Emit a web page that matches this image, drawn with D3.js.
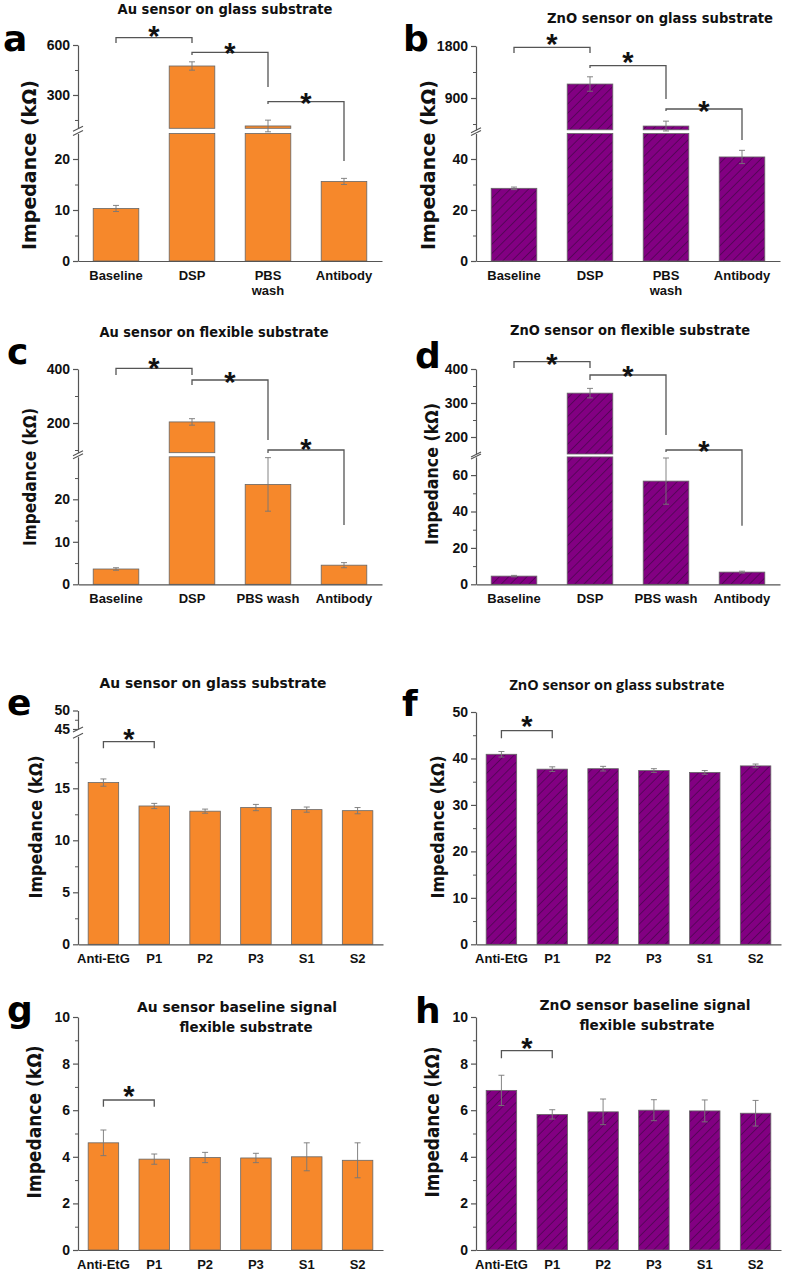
<!DOCTYPE html>
<html>
<head>
<meta charset="utf-8">
<script src="https://cdn.jsdelivr.net/npm/d3@7"></script>
<style>
  body { margin: 0; background: #fff; }
  svg { display: block; }
</style>
</head>
<body>
<svg id="fig" width="787" height="1273"></svg>
<script>
// categories
const catsStep = ["Baseline", "DSP", "PBS wash", "Antibody"];
const catsSel = ["Anti-EtG", "P1", "P2", "P3", "S1", "S2"];

// values (kOhm) and errors
const auGlassVals = [10.3, 474, 114, 15.6];
const auGlassErr = [0.6, 25, 35, 0.6];
const znoGlassVals = [28.5, 1142, 415, 40.8];
const znoGlassErr = [0.5, 125, 85, 2.6];
const auFlexVals = [3.6, 204, 23.5, 4.5];
const auFlexErr = [0.3, 12, 6.3, 0.6];
const znoFlexVals = [4.5, 329, 56.7, 6.7];
const znoFlexErr = [0.4, 14, 12.7, 0.5];

const auGlassSelVals = [15.55, 13.3, 12.8, 13.15, 12.95, 12.85];
const auGlassSelErr = [0.35, 0.25, 0.2, 0.3, 0.25, 0.3];
const znoGlassSelVals = [40.9, 37.7, 37.8, 37.4, 37.0, 38.4];
const znoGlassSelErr = [0.6, 0.5, 0.5, 0.4, 0.4, 0.4];
const auFlexSelVals = [4.6, 3.9, 3.97, 3.95, 4.0, 3.85];
const auFlexSelErr = [0.55, 0.22, 0.22, 0.2, 0.6, 0.75];
const znoFlexSelVals = [6.85, 5.82, 5.93, 6.0, 5.97, 5.87];
const znoFlexSelErr = [0.65, 0.2, 0.55, 0.45, 0.47, 0.55];

const ORANGE = "#F6882B";
const PURPLE = "#820082";

const svg = d3.select("#fig");

// hatch pattern for the ZnO bars
const pat = svg.append("defs").append("pattern")
  .attr("id", "hatch")
  .attr("patternUnits", "userSpaceOnUse")
  .attr("width", 6.5).attr("height", 6.5)
  .attr("patternTransform", "rotate(45)");
pat.append("rect").attr("width", 6.5).attr("height", 6.5).attr("fill", PURPLE);
pat.append("line").attr("x1", 0).attr("y1", 0).attr("x2", 0).attr("y2", 6.5)
  .attr("stroke", "#36083a").attr("stroke-width", 1.1);

const panels = [
  { letter: "a", lx: 3, ly: 51, title: ["Au sensor on glass substrate"], tx: [225], ty: [14], tl: [215],
    ylab: [29, 165, 170, 20], cats: catsStep, vals: auGlassVals, errs: auGlassErr, fill: ORANGE, wrap: true,
    x0: 78, x1: 382, yTop: 45, yBot: 261, loMax: 25, loTop: 133.5, upMin: 100, upMax: 600, upBot: 128.3,
    loTicks: [0, 10, 20], loMinor: [5, 15], upTicks: [300, 600], upMinor: [150, 450],
    brackets: [[0, 1, 37.7, 43, 43, -8], [1, 2, 52.3, 55, 87, -5], [2, 3, 101.7, 104, 161, -5]] },
  { letter: "b", lx: 403, ly: 51, title: ["ZnO sensor on glass substrate"], tx: [660], ty: [23], tl: [226],
    ylab: [428, 165, 170, 20], cats: catsStep, vals: znoGlassVals, errs: znoGlassErr, fill: "url(#hatch)", wrap: true,
    x0: 476, x1: 780, yTop: 46, yBot: 261, loMax: 50, loTop: 133.5, upMin: 350, upMax: 1800, upBot: 129.8,
    loTicks: [0, 20, 40], loMinor: [10, 30], upTicks: [900, 1800], upMinor: [450, 1350],
    brackets: [[0, 1, 47.3, 53, 53, -9], [1, 2, 65.7, 68, 99, -10], [2, 3, 109, 111, 140, -4]] },
  { letter: "c", lx: 7, ly: 364, title: ["Au sensor on flexible substrate"], tx: [214], ty: [337], tl: [229],
    ylab: [29, 477, 138, 18], cats: catsStep, vals: auFlexVals, errs: auFlexErr, fill: ORANGE, wrap: false,
    x0: 78, x1: 382, yTop: 369, yBot: 584.3, loMax: 30, loTop: 456.8, upMin: 90, upMax: 400, upBot: 452.7,
    loTicks: [0, 10, 20], loMinor: [5, 15, 25], upTicks: [200, 400], upMinor: [100, 300],
    brackets: [[0, 1, 368.3, 375, 375, -6.6], [1, 2, 380, 385, 440, -4], [2, 3, 450, 453, 525, -7]] },
  { letter: "d", lx: 415, ly: 368, title: ["ZnO sensor on flexible substrate"], tx: [630], ty: [335], tl: [240],
    ylab: [431, 474, 142, 18], cats: catsStep, vals: znoFlexVals, errs: znoFlexErr, fill: "url(#hatch)", wrap: false,
    x0: 476, x1: 780, yTop: 369, yBot: 584.3, loMax: 70, loTop: 456.9, upMin: 150, upMax: 400, upBot: 454,
    loTicks: [0, 20, 40, 60], loMinor: [10, 30, 50], upTicks: [200, 300, 400], upMinor: [250, 350],
    brackets: [[0, 1, 361.7, 368, 368, -3.5], [1, 2, 375, 380, 435, -5], [2, 3, 450, 452, 525.7, -5]] },
  { letter: "e", lx: 7, ly: 715, title: ["Au sensor on glass substrate"], tx: [213], ty: [688], tl: [227],
    ylab: [35, 827, 143, 18], cats: catsSel, vals: auGlassSelVals, errs: auGlassSelErr, fill: ORANGE, wrap: false,
    x0: 78, x1: 383, yTop: 710.5, yBot: 944.3, loMax: 20, loTop: 736.3, upMin: 45, upMax: 50, upBot: 729,
    loTicks: [0, 5, 10, 15], loMinor: [2.5, 7.5, 12.5, 17.5], upTicks: [45, 50], upMinor: [47.5],
    brackets: [[0, 1, 741.7, 748.3, 748.3, -9]] },
  { letter: "f", lx: 402, ly: 716, title: ["ZnO sensor on glass substrate"], tx: [617], ty: [690], tl: [215], tfont: "Open Sans",
    ylab: [437, 827, 143, 18], cats: catsSel, vals: znoGlassSelVals, errs: znoGlassSelErr, fill: "url(#hatch)", wrap: false,
    x0: 476, x1: 781, yTop: 712, yBot: 944.3, loMax: 50, loTop: 712,
    loTicks: [0, 10, 20, 30, 40, 50], loMinor: [5, 15, 25, 35, 45],
    brackets: [[0, 1, 730.7, 738.3, 738.3, -10.7]] },
  { letter: "g", lx: 7, ly: 1022, title: ["Au sensor baseline signal", "flexible substrate"], tx: [237, 246], ty: [1012, 1032], tl: [200, 133],
    ylab: [34, 1122, 153, 19], cats: catsSel, vals: auFlexSelVals, errs: auFlexSelErr, fill: ORANGE, wrap: false,
    x0: 78, x1: 383, yTop: 1017, yBot: 1250, loMax: 10, loTop: 1017,
    loTicks: [0, 2, 4, 6, 8, 10], loMinor: [1, 3, 5, 7, 9],
    brackets: [[0, 1, 1100, 1106.7, 1106.7, -10]] },
  { letter: "h", lx: 415, ly: 1023, title: ["ZnO sensor baseline signal", "flexible substrate"], tx: [645, 647], ty: [1010, 1030], tl: [211, 135],
    ylab: [432, 1122, 151, 19], cats: catsSel, vals: znoFlexSelVals, errs: znoFlexSelErr, fill: "url(#hatch)", wrap: false,
    x0: 476, x1: 781, yTop: 1017, yBot: 1250, loMax: 10, loTop: 1017,
    loTicks: [0, 2, 4, 6, 8, 10], loMinor: [1, 3, 5, 7, 9],
    brackets: [[0, 1, 1050.7, 1058.3, 1058.3, -9]] }
];

const AXIS = "#555";

function yAxis(g, scale, major, minor, x0) {
  const ax = g.append("g").attr("transform", `translate(${x0},0)`)
    .call(d3.axisLeft(scale).tickValues(major).tickSize(5).tickSizeOuter(0).tickPadding(3).tickFormat(d3.format("d")));
  ax.select(".domain").attr("stroke", AXIS).attr("stroke-width", 1.2);
  ax.selectAll(".tick line").attr("stroke", AXIS).attr("stroke-width", 1.2);
  ax.selectAll(".tick text").attr("fill", "#111")
    .style("font-family", "Liberation Sans, Arial, sans-serif").style("font-weight", "bold").style("font-size", "14px");
  const mn = g.append("g").attr("transform", `translate(${x0},0)`)
    .call(d3.axisLeft(scale).tickValues(minor).tickSize(3).tickFormat(""));
  mn.select(".domain").remove();
  mn.selectAll(".tick line").attr("stroke", AXIS).attr("stroke-width", 1);
}

function drawPanel(p) {
  const g = svg.append("g");
  const x = d3.scaleBand().domain(p.cats).range([p.x0, p.x1]).paddingInner(0.4).paddingOuter(0.2);
  const lo = d3.scaleLinear().domain([0, p.loMax]).range([p.yBot, p.loTop]);
  const up = p.upMin != null ? d3.scaleLinear().domain([p.upMin, p.upMax]).range([p.upBot, p.yTop]) : null;
  const y = v => (up && v > p.loMax) ? up(v) : lo(v);
  const data = p.cats.map((c, i) => ({ c, v: p.vals[i], e: p.errs[i] }));

  // lower part of bars
  g.selectAll(".lo").data(data).join("rect")
    .attr("x", d => x(d.c)).attr("width", x.bandwidth())
    .attr("y", d => lo(Math.min(d.v, p.loMax)))
    .attr("height", d => p.yBot - lo(Math.min(d.v, p.loMax)))
    .attr("fill", p.fill).attr("stroke", "#666").attr("stroke-width", 0.8);
  // upper part of broken bars
  if (up) {
    g.selectAll(".up").data(data.filter(d => d.v > p.loMax)).join("rect")
      .attr("x", d => x(d.c)).attr("width", x.bandwidth())
      .attr("y", d => up(d.v)).attr("height", d => p.upBot - up(d.v))
      .attr("fill", p.fill).attr("stroke", "#666").attr("stroke-width", 0.8);
  }

  // error bars
  const eb = g.selectAll(".eb").data(data).join("g")
    .attr("stroke", "#777").attr("stroke-width", 0.9);
  const cx = d => x(d.c) + x.bandwidth() / 2;
  eb.append("line").attr("x1", cx).attr("x2", cx)
    .attr("y1", d => y(d.v + d.e)).attr("y2", d => y(d.v - d.e));
  eb.append("line").attr("x1", d => cx(d) - 3).attr("x2", d => cx(d) + 3)
    .attr("y1", d => y(d.v + d.e)).attr("y2", d => y(d.v + d.e));
  eb.append("line").attr("x1", d => cx(d) - 3).attr("x2", d => cx(d) + 3)
    .attr("y1", d => y(d.v - d.e)).attr("y2", d => y(d.v - d.e));

  // y axes
  yAxis(g, lo, p.loTicks, p.loMinor, p.x0);
  if (up) {
    yAxis(g, up, p.upTicks, p.upMinor, p.x0);
    [p.upBot + 0.5, p.loTop - 0.5].forEach(yy => {
      g.append("line").attr("x1", p.x0 - 5).attr("x2", p.x0 + 5)
        .attr("y1", yy + 2.5).attr("y2", yy - 2.5)
        .attr("stroke", AXIS).attr("stroke-width", 1.1);
    });
  }

  // x axis
  const xa = g.append("g").attr("transform", `translate(0,${p.yBot})`)
    .call(d3.axisBottom(x).tickSize(0).tickSizeOuter(0).tickFormat(""));
  xa.select(".domain").attr("stroke", AXIS).attr("stroke-width", 1.2);
  const lab = g.selectAll(".xl").data(p.cats).join("text")
    .attr("x", d => x(d) + x.bandwidth() / 2).attr("y", p.yBot + 19)
    .attr("text-anchor", "middle").attr("fill", "#111")
    .style("font-family", "Liberation Sans, Arial, sans-serif").style("font-weight", "bold").style("font-size", "13px");
  lab.each(function (d) {
    const parts = p.wrap ? d.split(" ") : [d];
    d3.select(this).selectAll("tspan").data(parts).join("tspan")
      .attr("x", x(d) + x.bandwidth() / 2).attr("dy", (s, i) => i ? 15 : 0).text(s => s);
  });

  // significance brackets
  p.brackets.forEach(([a, b, yl, dl, dr, sy]) => {
    const xa1 = x(p.cats[a]) + x.bandwidth() / 2, xb1 = x(p.cats[b]) + x.bandwidth() / 2;
    g.append("path")
      .attr("d", d3.line()([[xa1, dl], [xa1, yl], [xb1, yl], [xb1, dr]]))
      .attr("fill", "none").attr("stroke", AXIS).attr("stroke-width", 1.3);
    g.append("text").attr("x", (xa1 + xb1) / 2).attr("y", yl + sy + 16)
      .attr("text-anchor", "middle").attr("fill", "#111")
      .style("font-family", "Liberation Sans, Arial, sans-serif").style("font-weight", "bold").style("font-size", "29px")
      .text("*");
  });

  // title
  p.title.forEach((t, i) => {
    g.append("text").attr("x", p.tx[i]).attr("y", p.ty[i]).attr("text-anchor", "middle")
      .attr("textLength", p.tl[i]).attr("lengthAdjust", "spacingAndGlyphs")
      .attr("fill", "#111")
      .style("font-family", p.tfont || "DejaVu Sans, sans-serif").style("font-weight", "bold").style("font-size", "14px")
      .text(t);
  });

  // y label
  const [yx, yy, yl, fs] = p.ylab;
  g.append("text").attr("transform", `translate(${yx + 7},${yy}) rotate(-90)`)
    .attr("text-anchor", "middle").attr("textLength", yl).attr("lengthAdjust", "spacingAndGlyphs")
    .attr("fill", "#111")
    .style("font-family", "DejaVu Sans, sans-serif").style("font-weight", "bold").style("font-size", fs + "px")
    .text("Impedance (kΩ)");

  // panel letter
  g.append("text").attr("x", p.lx).attr("y", p.ly).attr("fill", "#000")
    .style("font-family", "DejaVu Sans, sans-serif").style("font-weight", "bold").style("font-size", "36px")
    .text(p.letter);
}

panels.forEach(drawPanel);
</script>
</body>
</html>
